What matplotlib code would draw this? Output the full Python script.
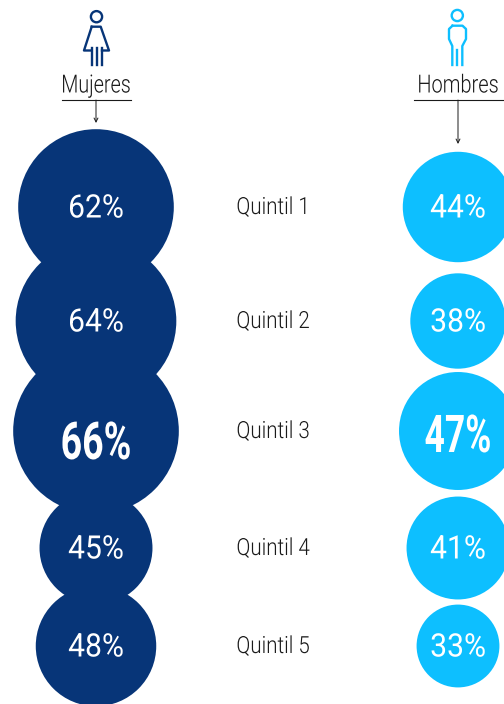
import matplotlib
matplotlib.use("Agg")
import matplotlib.pyplot as plt
from matplotlib.patches import Circle
from matplotlib.patheffects import AbstractPathEffect
from matplotlib.transforms import Affine2D

quintiles = ["Quintil 1", "Quintil 2", "Quintil 3", "Quintil 4", "Quintil 5"]
mujeres = [62, 64, 66, 45, 48]
hombres = [44, 38, 47, 41, 33]

FONT = "Roboto"
NAVY = "#073578"
CYAN = "#0DBFFF"
INK = "#1A1A1A"
row_y = [207, 321, 431, 548, 646]
X_M, X_H = 96, 458
PX_PER_PCT = 1.255


class Squeeze(AbstractPathEffect):
    # the reference font is condensed, Roboto is not: narrow the glyphs around the text centre
    def __init__(self, cx, factor):
        super().__init__()
        self.cx = cx
        self.factor = factor

    def draw_path(self, renderer, gc, tpath, affine, rgbFace=None):
        squeeze = Affine2D().translate(-self.cx, 0).scale(self.factor, 1).translate(self.cx, 0)
        renderer.draw_path(gc, tpath, affine + squeeze, rgbFace)


fig = plt.figure(figsize=(5.04, 7.04), dpi=100)
ax = fig.add_axes([0, 0, 1, 1])
ax.set_xlim(0, 504)
ax.set_ylim(704, 0)
ax.axis("off")


def label(x, y, s, color, size, factor, weight=400):
    ax.text(x, y, s, color=color, ha="center", va="baseline", family=FONT, fontsize=size,
            fontweight=weight, zorder=3, path_effects=[Squeeze(x, factor)])


for i, q in enumerate(quintiles):
    y = row_y[i]
    ax.add_patch(Circle((X_M, y), mujeres[i] * PX_PER_PCT, color=NAVY, lw=0, zorder=2))
    ax.add_patch(Circle((X_H, y), hombres[i] * PX_PER_PCT, color=CYAN, lw=0, zorder=2))
    if i == 2:
        label(X_M, y + 28, f"{mujeres[i]}%", "white", 37.5, 0.72, 700)
        label(X_H, y + 21, f"{hombres[i]}%", "white", 37.5, 0.68, 700)
    else:
        label(X_M, y + 10.5, f"{mujeres[i]}%", "white", 23.3, 0.93)
        label(X_H, y + 10.5, f"{hombres[i]}%", "white", 23.3, 0.93)
    label(273, y + 7, q, INK, 17, 0.87, 300)

# encabezados
label(96, 92.5, "Mujeres", INK, 18, 0.79, 300)
label(458, 92.5, "Hombres", INK, 18, 0.80, 300)
ax.plot([62, 131], [100, 100], color=INK, lw=0.8)
ax.plot([414, 504], [100, 100], color=INK, lw=0.8)
ax.annotate("", xy=(96, 123), xytext=(96, 100),
            arrowprops=dict(arrowstyle="->", color=INK, lw=0.7, shrinkA=0, shrinkB=0, mutation_scale=7))
ax.annotate("", xy=(458, 144), xytext=(458, 100),
            arrowprops=dict(arrowstyle="->", color=INK, lw=0.7, shrinkA=0, shrinkB=0, mutation_scale=7))

# icono mujer
ax.add_patch(Circle((96.5, 16.7), 5.6, fc="none", ec=NAVY, lw=1.7))
ax.plot([91.7, 100.7, 109, 102, 102], [26.7, 26.7, 50.5, 50.5, 50.5], color=NAVY, lw=1.7, solid_joinstyle="round")
ax.plot([91.7, 91.7, 84, 91.7], [50.5, 50.5, 50.5, 26.7], color=NAVY, lw=1.7, solid_joinstyle="round")
for lx in [91.7, 96.5, 101.7]:
    ax.plot([lx, lx], [48, 65], color=NAVY, lw=1.7)

# icono hombre
ax.add_patch(Circle((457.3, 15.5), 5.6, fc="none", ec=CYAN, lw=1.7))
ax.plot([452.5, 462.5, 466, 466, 462.3, 462.3], [25.7, 25.7, 29, 39, 46, 65], color=CYAN, lw=1.7, solid_joinstyle="round")
ax.plot([452.5, 449, 449, 452.3, 452.3], [25.7, 29, 39, 46, 65], color=CYAN, lw=1.7, solid_joinstyle="round")
ax.plot([457.3, 457.3], [50, 65], color=CYAN, lw=1.7)

fig.savefig("out.png", dpi=100)
